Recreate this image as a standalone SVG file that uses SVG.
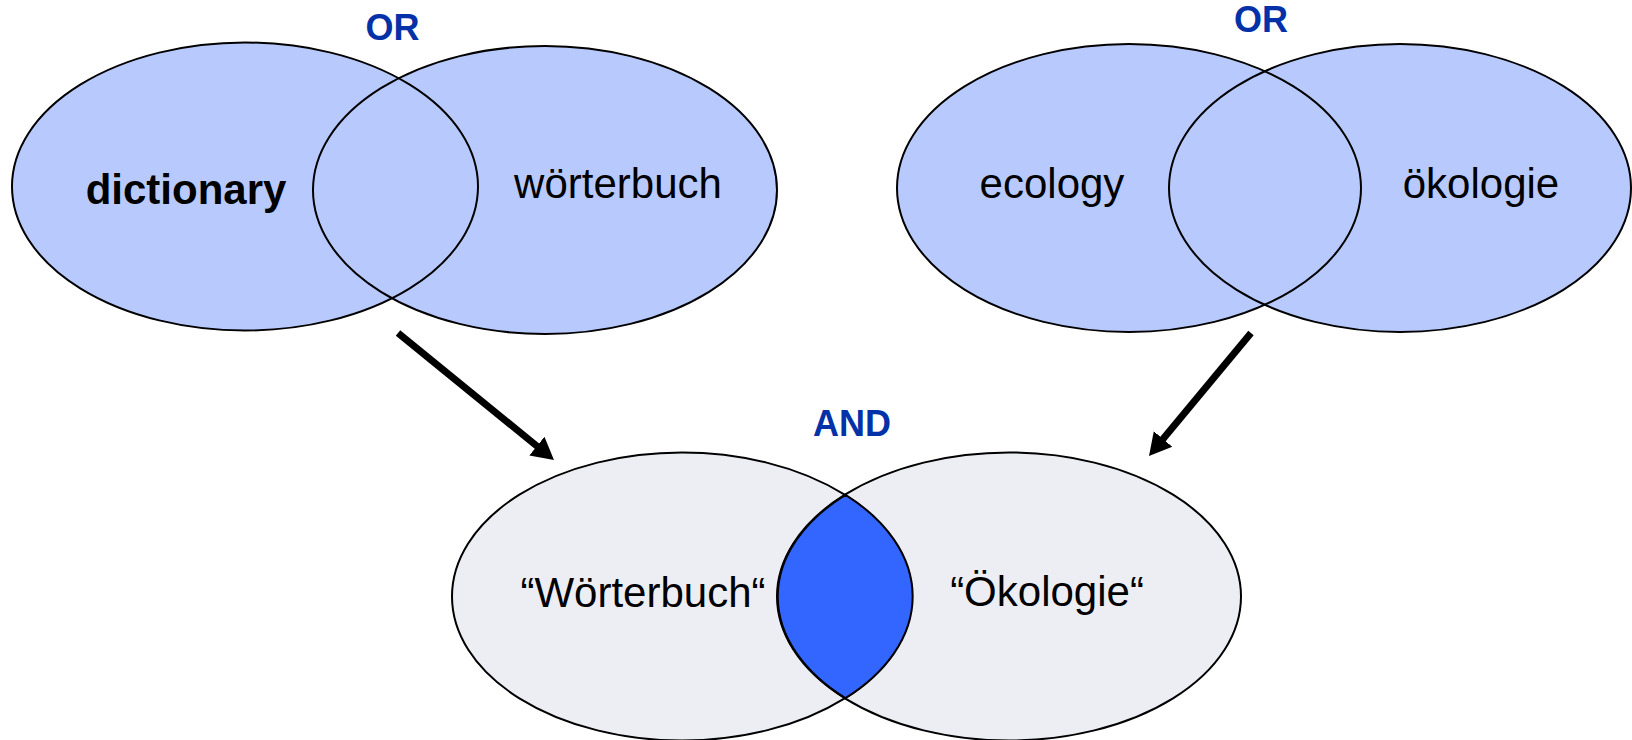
<svg xmlns="http://www.w3.org/2000/svg" width="1632" height="740" viewBox="0 0 1632 740">
<style>
.top{fill:#b8cafd}
.bot{fill:#edeef4}
.ol{fill:none;stroke:#000;stroke-width:2}
.lbl{font-family:"Liberation Sans",Arial,sans-serif;font-size:42px;fill:#000;text-anchor:middle}
.b{font-weight:bold}
.op{font-family:"Liberation Sans",Arial,sans-serif;font-size:36px;font-weight:bold;fill:#0331a8;text-anchor:middle}
.arr{stroke:#000;stroke-width:7;fill:none;marker-end:url(#ah)}
</style>
<defs>
<marker id="ah" markerUnits="userSpaceOnUse" markerWidth="24" markerHeight="26" refX="4" refY="12" orient="auto" viewBox="0 0 24 24">
<path d="M0,0 L22,12 L0,24 Z" fill="#000"/>
</marker>
</defs>
<rect width="1632" height="740" fill="#fff"/>
<g id="dictionary">
<ellipse class="top" cx="245" cy="186.5" rx="233" ry="144"/>
<text class="lbl b" x="186" y="204">dictionary</text>
</g>
<g id="woerterbuch">
<ellipse class="top" cx="545" cy="190" rx="232" ry="144"/>
<text class="lbl" x="618" y="198">wörterbuch</text>
</g>
<g id="ecology">
<ellipse class="top" cx="1129" cy="188" rx="232" ry="144"/>
<text class="lbl" x="1052" y="198">ecology</text>
</g>
<g id="oekologie">
<ellipse class="top" cx="1400" cy="188" rx="231" ry="144"/>
<text class="lbl" x="1481" y="198">ökologie</text>
</g>
<g id="q-woerterbuch">
<ellipse class="bot" cx="682" cy="596.5" rx="230" ry="144"/>
<text class="lbl" x="643" y="607">“Wörterbuch“</text>
</g>
<g id="q-oekologie">
<ellipse class="bot" cx="1009" cy="596.5" rx="232" ry="144"/>
<text class="lbl" x="1047" y="606">“Ökologie“</text>
</g>
<g id="outlines">
<ellipse class="ol" cx="245" cy="186.5" rx="233" ry="144"/>
<ellipse class="ol" cx="545" cy="190" rx="232" ry="144"/>
<ellipse class="ol" cx="1129" cy="188" rx="232" ry="144"/>
<ellipse class="ol" cx="1400" cy="188" rx="231" ry="144"/>
<ellipse class="ol" cx="682" cy="596.5" rx="230" ry="144"/>
<ellipse class="ol" cx="1009" cy="596.5" rx="232" ry="144"/>
</g>
<g id="intersection">
<path d="M845.5,494.8 A232,144 0 0 0 845.5,698.2 A230,144 0 0 0 845.5,494.8 Z" fill="#3366ff" stroke="#000" stroke-width="2"/>
</g>
<g id="operators">
<text class="op" x="392.5" y="40">OR</text>
<text class="op" x="1261" y="32">OR</text>
<text class="op" x="852" y="436">AND</text>
</g>
<g id="connectors">
<line class="arr" x1="398" y1="333" x2="540" y2="448.6"/>
<line class="arr" x1="1251" y1="333" x2="1160.5" y2="442.1"/>
</g>
</svg>
